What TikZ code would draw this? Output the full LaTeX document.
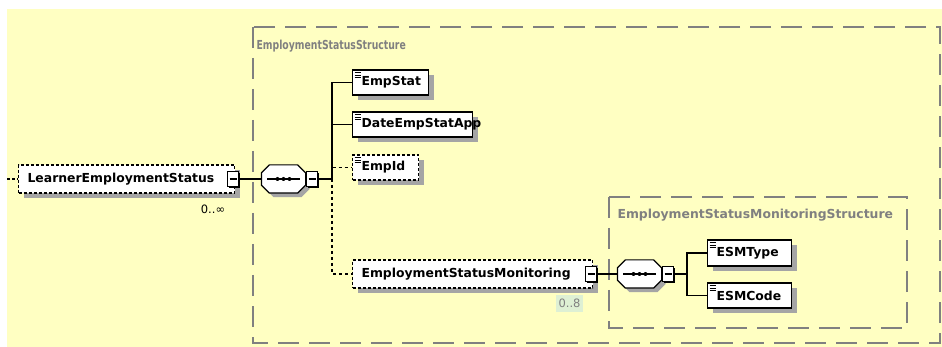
\documentclass[tikz,border=0pt]{standalone}
\usepackage{fontspec}
\usepackage{graphicx}
\setmainfont{DejaVu Sans}
\usetikzlibrary{shadows}
\definecolor{bgyellow}{RGB}{255,255,194}
\definecolor{framegray}{RGB}{128,128,128}
\definecolor{shadegray}{RGB}{165,165,165}
\definecolor{countgreen}{RGB}{222,240,212}
% octagon drawn round an (invisible) sequence node
\newcommand\seqoctagon[1]{%
    \draw[fill=white, drop shadow={shadow xshift=4pt, shadow yshift=-4pt, fill=shadegray, opacity=1}]
        ([xshift=8pt]#1.north west) -- ([xshift=-8pt]#1.north east) -- ([yshift=-8pt]#1.north east)
        -- ([yshift=8pt]#1.south east) -- ([xshift=-8pt]#1.south east) -- ([xshift=8pt]#1.south west)
        -- ([yshift=8pt]#1.south west) -- ([yshift=-8pt]#1.north west) -- cycle;
    \draw ([xshift=6pt]#1.west) -- ([xshift=-6pt]#1.east);
    \foreach \d in {-6,0,6} \fill ([xshift=\d pt]#1.center) circle (2pt);}

\begin{document}
\begin{tikzpicture}[x=1pt, y=-1pt, line width=1.2pt, font=\fontsize{12.4}{14}\selectfont\bfseries,
    elem/.style={rectangle, draw=black, fill=white, anchor=west, inner xsep=9pt, inner ysep=0pt,
        minimum height=25pt, align=left,
        drop shadow={shadow xshift=5pt, shadow yshift=-5pt, fill=shadegray, opacity=1}},
    optional/.style={dash pattern=on 3pt off 2pt},
    leaf/.style={path picture={\foreach \k in {2.5,5,7.5}
        \draw[solid, line width=0.8pt] ([xshift=2pt,yshift=-\k pt]path picture bounding box.north west) -- ++(6.5pt,0);}},
    seq/.style={rectangle, minimum width=43pt, minimum height=27pt, inner sep=0pt},
    minusbox/.style={rectangle, draw=black, fill=white, minimum width=11pt, minimum height=15pt, inner sep=0pt,
        drop shadow={shadow xshift=1.5pt, shadow yshift=-1.5pt, fill=black, opacity=1}},
    frame/.style={draw=framegray, dash pattern=on 21pt off 10pt},
    count/.style={font=\fontsize{11.5}{13}\selectfont\mdseries, inner sep=1pt}]
        \useasboundingbox (0,0) rectangle (942,347);
        \fill[bgyellow] (7,9) rectangle (942,347);
        % structure frames
        \draw[frame] (253,27) rectangle (940,343);
        \node(200) at (256,46) [anchor=west, inner sep=0pt, text=framegray] {\scalebox{0.75}[1]{EmploymentStatusStructure}};
        \draw[frame] (609,197) rectangle (907,328);
        \node(300) at (617,215) [anchor=west, inner sep=0pt, text=framegray] {EmploymentStatusMonitoringStructure};
        % top element
        \coordinate(100) at (7,179);
        \node(101) at (18,179) [elem, optional, minimum height=28pt, text width=198pt] {LearnerEmploymentStatus};
        \node(102) at ([xshift=-2pt]101.east) [minusbox] {\rule{7pt}{1.2pt}};
        \node(103) at (213,209) [count] {0..∞};
        \draw [optional] (100) -- (101);
        % first sequence
        \node(111) at (283.5,179) [seq] {};
        \seqoctagon{111}
        \node(112) at ([xshift=6.5pt]111.east) [minusbox] {\rule{7pt}{1.2pt}};
        \draw (102) -- (111);
        \coordinate(120) at (332,179);
        \node(121) at (352,82.5) [elem, leaf, text width=58pt] {EmpStat};
        \node(122) at (352,124.5) [elem, leaf, text width=102pt] {DateEmpStatApp};
        \node(123) at (352,167.5) [elem, optional, leaf, text width=48pt] {EmpId};
        \node(124) at (352,274) [elem, optional, minimum height=28pt, text width=222pt] {EmploymentStatusMonitoring};
        \node(125) at ([xshift=-2pt]124.east) [minusbox] {\rule{7pt}{1.2pt}};
        \node(126) at (569.5,303.5) [count, fill=countgreen, text=framegray, minimum width=27pt, minimum height=17pt] {0..8};
        \draw [dash pattern=on 3pt off 3pt] (120) |- (123);
        \draw [dash pattern=on 3pt off 3pt] (120) |- (124);
        \draw (112) -- (120) |- (121);
        \draw (120) |- (122);
        % second sequence
        \node(131) at (639.5,274) [seq] {};
        \seqoctagon{131}
        \node(132) at ([xshift=6.5pt]131.east) [minusbox] {\rule{7pt}{1.2pt}};
        \draw (125) -- (131);
        \coordinate(140) at (687,274);
        \node(141) at (707,253) [elem, leaf, minimum height=26pt, text width=66pt] {ESMType};
        \node(142) at (707,295.5) [elem, leaf, text width=66pt] {ESMCode};
        \draw (132) -- (140) |- (141);
        \draw (140) |- (142);
    \end{tikzpicture}
\end{document}
